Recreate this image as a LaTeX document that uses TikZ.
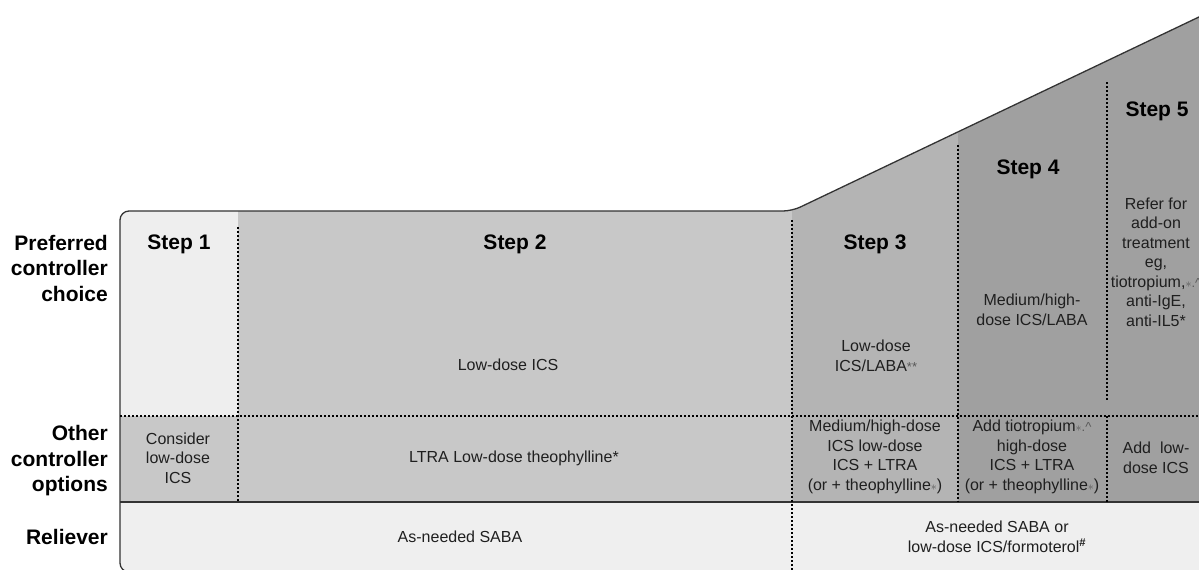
\documentclass[tikz,border=0pt]{standalone}
\usepackage{fontspec}
\setmainfont{Liberation Sans}
\usepackage{xcolor}
\usepackage{tikz}

\definecolor{shadeA}{HTML}{EEEEEE}
\definecolor{shadeB}{HTML}{C8C8C8}
\definecolor{shadeC}{HTML}{B4B4B4}
\definecolor{shadeD}{HTML}{A0A0A0}
\definecolor{shadeR}{HTML}{EFEFEF}
\definecolor{edgegray}{HTML}{333333}

\newcommand{\mk}[1]{{\color{black!65}\fontsize{13}{13}\selectfont #1}}

\tikzset{
  rowlab/.style={font=\fontsize{21}{25.5}\selectfont\bfseries, align=right, anchor=east, inner sep=0pt},
  steplab/.style={font=\fontsize{21}{25}\selectfont\bfseries, inner sep=0pt},
  txt/.style={font=\fontsize{16}{19.5}\selectfont, align=center, inner sep=0pt, text=black!88},
  edge/.style={edgegray, line width=1.3pt},
  dotline/.style={black, line width=1.2pt, dash pattern=on 2pt off 2pt}
}

\begin{document}
\begin{tikzpicture}[x=1pt, y=-1pt]
\useasboundingbox (0,0) rectangle (1199,570);
\coordinate (TL) at (120,211);
\coordinate (K)  at (792,211);
\coordinate (TR) at (1222,6);
\coordinate (BL) at (120,572);
\coordinate (BR) at (1222,572);
\begin{scope}
  \clip[rounded corners=9] (BL) -- (TL) -- (K) -- (TR) -- (BR) -- cycle;
  \fill[shadeA] (120,0) rectangle (238,416);
  \fill[shadeB] (120,416) rectangle (792,502);
  \fill[shadeB] (238,0) rectangle (792,416);
  \fill[shadeC] (792,0) rectangle (958,502);
  \fill[shadeD] (958,0) rectangle (1222,502);
  \fill[shadeR] (120,502) rectangle (1222,576);
\end{scope}
\draw[edge, rounded corners=9] (BR) -- (BL) -- (TL) -- (K) -- (TR);
\draw[edge] (120,502) -- (1222,502);
\draw[dotline] (120,416) -- (1199,416);
\foreach \x/\a/\b in {238/227/502, 792/220/570, 958/145/502, 1107/82/400, 1107/416/502}{
    \draw[dotline] (\x,\a) -- (\x,\b);
}

\node[rowlab] (pref) at (108,268) {Preferred\\controller\\choice};
\node[rowlab] (other) at (108,461) {Other\\controller\\options};
\node[rowlab] (rel) at (108,537) {Reliever};

\node[steplab] (s1) at (179,244) {Step 1};
\node[steplab] (s2) at (515,244) {Step 2};
\node[steplab] (s3) at (875,244) {Step 3};
\node[steplab] (s4) at (1028,169) {Step 4};
\node[steplab] (s5) at (1157,111) {Step 5};

\node[txt] (p2) at (508,365) {Low-dose ICS};
\node[txt] (p3) at (876,356) {Low-dose\\ICS/LABA\mk{**}};
\node[txt] (p4) at (1032,310) {Medium/high-\\dose ICS/LABA};
\node[txt] (p5) at (1156,262) {Refer for\\add-on\\treatment\\eg,\\tiotropium,\mk{$\ast$.\^{}}\\anti-IgE,\\anti-IL5*};

\node[txt] (o1) at (178,458) {Consider\\low-dose\\ICS};
\node[txt] (o2) at (514,458) {LTRA Low-dose theophylline*};
\node[txt] (o3) at (875,457) {Medium/high-dose\\ICS low-dose\\ICS + LTRA\\(or + theophylline\mk{$\ast$})};
\node[txt] (o4) at (1032,457) {Add tiotropium\mk{$\ast$.\^{}}\\high-dose\\ICS + LTRA\\(or + theophylline\mk{$\ast$})};
\node[txt] (o5) at (1156,458) {Add\ \ low-\\dose ICS};

\node[txt] (r1) at (460,537) {As-needed SABA};
\node[txt] (r2) at (997,537) {As-needed SABA or\\low-dose ICS/formoterol\textsuperscript{\textbf{\#}}};
\end{tikzpicture}
\end{document}
